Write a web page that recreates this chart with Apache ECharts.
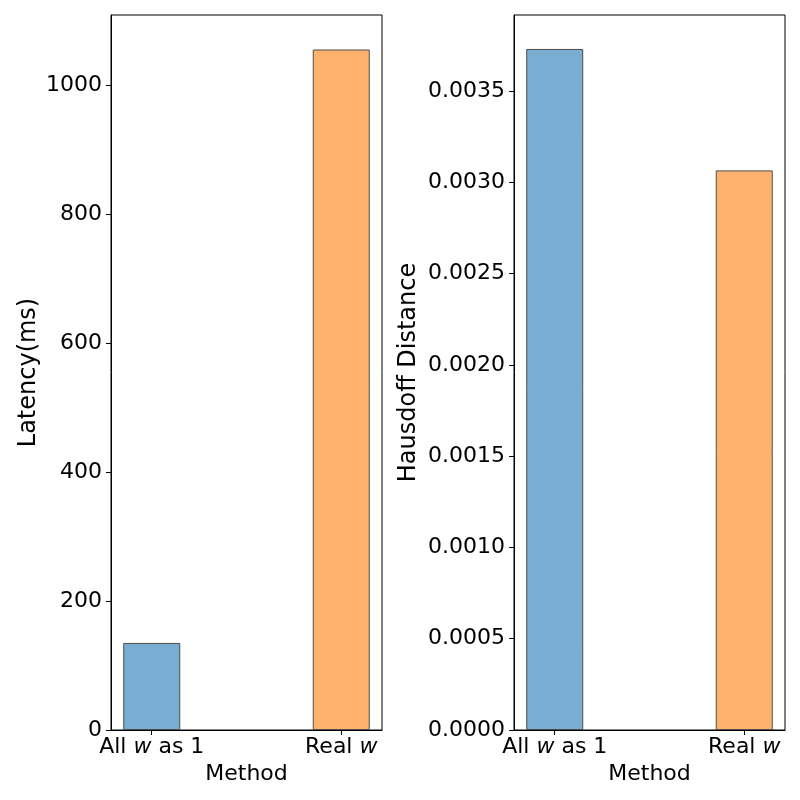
<!DOCTYPE html>
<html><head><meta charset="utf-8">
<script src="https://cdn.jsdelivr.net/npm/echarts@6/dist/echarts.min.js"></script>
<style>html,body{margin:0;padding:0;background:#fff}#c{width:800px;height:800px}</style>
</head><body><div id="c"></div>
<script>
const methods = ['All w as 1', 'Real w'];
const latency = [135, 1055];
const hausdorff = [0.00373, 0.003065];
const colors = ['#79add2', '#ffb26e'];
const FONT = 'DejaVu Sans';

const chart = echarts.init(document.getElementById('c'));
function xLabel(v) {
  if (v === 0) return '{n|All }{i|w}{n| as 1}';
  if (v === 1) return '{n|Real }{i|w}';
  return '';
}
const rich = { n: { fontFamily: FONT, fontSize: 22, color: '#000' }, i: { fontFamily: FONT, fontSize: 22, fontStyle: 'italic', color: '#000' } };
function xAxis(idx) {
  return {
    type: 'value', gridIndex: idx, min: -0.215, max: 1.215,
    name: 'Method', nameLocation: 'middle', nameGap: 33,
    nameTextStyle: { fontFamily: FONT, fontSize: 22, color: '#000' },
    axisLine: { show: true, onZero: false, lineStyle: { color: '#000', width: 1 } },
    axisTick: { show: true, length: 5, lineStyle: { color: '#000' }, customValues: [0, 1] },
    axisLabel: { margin: 6, formatter: xLabel, rich: rich, customValues: [0, 1] },
    splitLine: { show: false }
  };
}
function yAxis(idx, max, interval, name, gap, fmt) {
  return {
    type: 'value', gridIndex: idx, min: 0, max: max, interval: interval,
    name: name, nameLocation: 'middle', nameGap: gap,
    nameTextStyle: { fontFamily: FONT, fontSize: 24, color: '#000' },
    axisLine: { show: true, onZero: false, lineStyle: { color: '#000' } },
    axisTick: { show: true, inside: false, length: 5, lineStyle: { color: '#000' } },
    axisLabel: { fontFamily: FONT, fontSize: 22, color: '#000', margin: 9, showMaxLabel: false, formatter: fmt },
    splitLine: { show: false }
  };
}
function barData(vals) {
  return vals.map((v, i) => ({ value: [i, v], itemStyle: { color: colors[i] } }));
}
chart.setOption({
  animation: false,
  grid: [
    { left: 111, right: 418, top: 15, bottom: 70, show: true, borderColor: '#000', borderWidth: 1 },
    { left: 514, right: 15, top: 15, bottom: 70, show: true, borderColor: '#000', borderWidth: 1 }
  ],
  xAxis: [xAxis(0), xAxis(1)],
  yAxis: [
    yAxis(0, 1108.5, 200, 'Latency(ms)', 70, v => String(Math.round(v))),
    yAxis(1, 0.003916, 0.0005, 'Hausdoff Distance', 93, v => v.toFixed(4))
  ],
  series: [
    { type: 'bar', xAxisIndex: 0, yAxisIndex: 0, barWidth: 57, data: barData(latency),
      itemStyle: { borderColor: '#4d4d4d', borderWidth: 1 } },
    { type: 'bar', xAxisIndex: 1, yAxisIndex: 1, barWidth: 57, data: barData(hausdorff),
      itemStyle: { borderColor: '#4d4d4d', borderWidth: 1 } }
  ]
});
</script></body></html>
